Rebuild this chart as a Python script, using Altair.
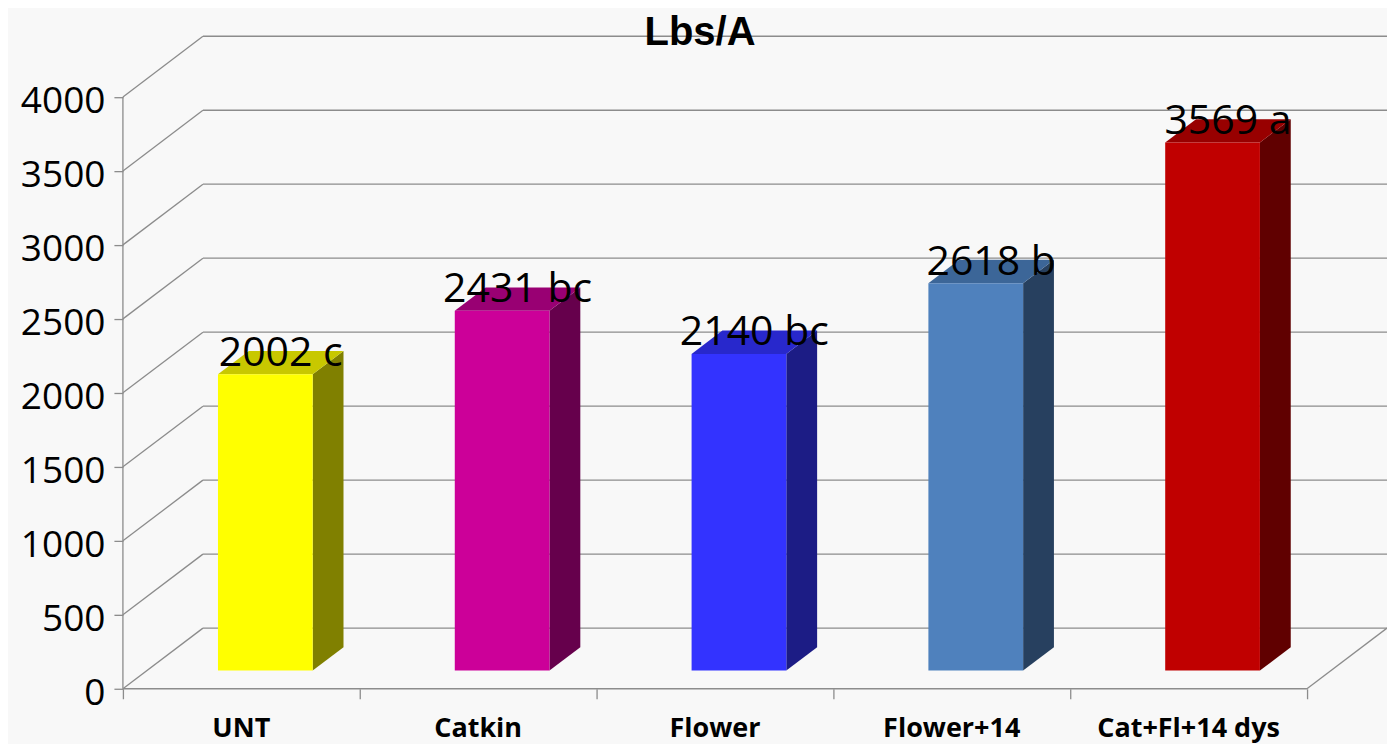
import altair as alt
import pandas as pd

# ---- data ----
categories = ["UNT", "Catkin", "Flower", "Flower+14", "Cat+Fl+14 dys"]
values = [2002, 2431, 2140, 2618, 3569]
letters = ["c", "bc", "bc", "b", "a"]
y_ticks = [0, 500, 1000, 1500, 2000, 2500, 3000, 3500, 4000]
title_text = "Lbs/A"

# ---- styling ----
front_colors = ["#FFFF00", "#CC0099", "#3333FF", "#4F81BD", "#C00000"]
side_colors = ["#808000", "#66004C", "#1C1C85", "#27405F", "#600000"]
top_colors = ["#C8C800", "#990073", "#2828CC", "#3C6698", "#980000"]
grid_color = "#8C8C8C"
FONT = "Open Sans"

# 3-D geometry (in data units of the scales)
N = len(categories)
DX = 0.338        # depth offset along x (category units)
DY = 410.0        # depth offset along y (value units)
BAR_W = 0.40      # front face width (category units)
F0, F1 = 0.30, 0.685   # bar front / back depth fractions

YMAX = max(y_ticks)
xs = alt.Scale(domain=[0, N + DX], nice=False, zero=False)
ys = alt.Scale(domain=[0, YMAX + DY], nice=False, zero=False)
xaxis = alt.Axis(values=list(range(N + 1)), labels=False, domain=False, grid=False,
                 ticks=True, tickSize=10, tickColor=grid_color, tickWidth=1.3, title=None)
yaxis = alt.Axis(values=y_ticks, format="d", domain=False, grid=False, ticks=True, tickSize=9,
                 tickColor=grid_color, tickWidth=1.3, labelFontSize=37, labelFont=FONT,
                 labelColor="black", labelPadding=9, labelOffset=5, title=None)


def X(f):
    return alt.X(f, type="quantitative", scale=xs, axis=xaxis)


def Y(f):
    return alt.Y(f, type="quantitative", scale=ys, axis=yaxis, stack=None)


# ---- wall / floor lines ----
rules = []
for v in y_ticks:
    rules.append(dict(x=0.0, y=v, x2=DX, y2=v + DY))            # left wall diagonal
    rules.append(dict(x=DX, y=v + DY, x2=N + DX, y2=v + DY))    # back wall gridline
rules.append(dict(x=0.0, y=0.0, x2=0.0, y2=YMAX))               # front value axis
rules.append(dict(x=0.0, y=0.0, x2=float(N), y2=0.0))           # front floor edge
rules.append(dict(x=float(N), y=0.0, x2=N + DX, y2=DY))         # right floor diagonal
rules_df = pd.DataFrame(rules)

# ---- bar faces ----
front, side, top, labels, cats = [], [], [], [], []
dx = (F1 - F0) * DX
dy = (F1 - F0) * DY
for i, (c, v, l) in enumerate(zip(categories, values, letters)):
    xl = i + 0.5 - BAR_W / 2 + F0 * DX
    xr = xl + BAR_W
    b = F0 * DY
    t = v + b
    front.append(dict(cat=c, x=xl, x2=xr, y=b, y2=t))
    side.append(dict(cat=c, x=xr, y=b, y2=t))
    side.append(dict(cat=c, x=xr + dx, y=b + dy, y2=t + dy))
    top.append(dict(cat=c, x=xl, y=t, y2=t))
    top.append(dict(cat=c, x=xl + dx, y=t, y2=t + dy))
    top.append(dict(cat=c, x=xr, y=t, y2=t + dy))
    top.append(dict(cat=c, x=xr + dx, y=t + dy, y2=t + dy))
    labels.append(dict(x=(xl + xr) / 2 + dx / 2, y=v + 180, text=f"{v} {l}"))
    cats.append(dict(x=i + 0.5, y=0.0, text=c))

front_df = pd.DataFrame(front)
side_df = pd.DataFrame(side)
top_df = pd.DataFrame(top)
labels_df = pd.DataFrame(labels)
cats_df = pd.DataFrame(cats)
title_df = pd.DataFrame([dict(x=2.437, y=YMAX + DY, text=title_text)])

rule_layer = alt.Chart(rules_df).mark_rule(color=grid_color, strokeWidth=1.3).encode(
    x=X("x"), y=Y("y"), x2="x2", y2="y2")

side_layer = alt.Chart(side_df).mark_area(opacity=1, interpolate="linear").encode(
    x=X("x"), y=Y("y"), y2="y2", detail="cat:N",
    color=alt.Color("cat:N", scale=alt.Scale(domain=categories, range=side_colors), legend=None))

top_layer = alt.Chart(top_df).mark_area(opacity=1, interpolate="linear").encode(
    x=X("x"), y=Y("y"), y2="y2", detail="cat:N",
    color=alt.Color("cat:N", scale=alt.Scale(domain=categories, range=top_colors), legend=None))

front_layer = alt.Chart(front_df).mark_rect().encode(
    x=X("x"), x2="x2", y=Y("y"), y2="y2",
    color=alt.Color("cat:N", scale=alt.Scale(domain=categories, range=front_colors), legend=None))

label_layer = alt.Chart(labels_df).mark_text(
    font=FONT, fontSize=41, color="black", align="center", baseline="alphabetic").encode(
    x=X("x"), y=Y("y"), text="text:N")

cat_layer = alt.Chart(cats_df).mark_text(
    font=FONT, fontSize=27, fontWeight="bold", color="black", align="center",
    baseline="alphabetic", dy=48).encode(
    x=X("x"), y=Y("y"), text="text:N")

title_layer = alt.Chart(title_df).mark_text(
    font="Liberation Sans", fontSize=40, fontWeight="bold", color="black", align="center",
    baseline="alphabetic", dy=9).encode(
    x=X("x"), y=Y("y"), text="text:N")

chart = alt.layer(
    rule_layer, side_layer, top_layer, front_layer, label_layer, cat_layer, title_layer
).resolve_scale(color="independent").properties(
    width=1265, height=653,
    autosize=alt.AutoSizeParams(type="none"),
    padding={"left": 115, "top": 28, "right": 0, "bottom": 56},
    background="#F8F8F8",
).configure_view(stroke=None)

chart.save("out.html", embed_options={"renderer": "svg", "actions": False})
